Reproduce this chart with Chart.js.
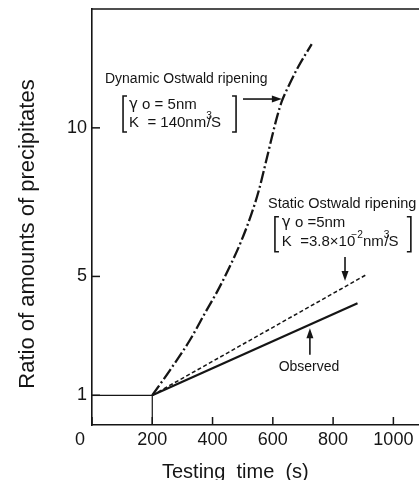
<!DOCTYPE html>
<html>
<head>
<meta charset="utf-8">
<script src="https://cdn.jsdelivr.net/npm/chart.js@4.4.1/dist/chart.umd.min.js"></script>
<style>
    html, body { margin: 0; padding: 0; background: #fff; }
    #wrap { width: 419px; height: 480px; position: relative; }
</style>
</head>
<body>
<div id="wrap"><canvas id="chart"></canvas></div>
<script>
// values
const dynamicTime = [200, 259, 325, 375, 418, 458, 494, 528, 554, 577, 597, 614, 630, 654, 684, 729]
const dynamicRatio = [1, 1.85, 2.86, 3.77, 4.54, 5.35, 6.16, 7.07, 7.91, 8.85, 9.69, 10.37, 10.90, 11.44, 12.05, 12.82]
const staticTime = [200, 914]
const staticRatio = [1, 5.08]
const observedTime = [200, 881]
const observedRatio = [1, 4.10]
const baseTime = [0, 200, 200]
const baseRatio = [1, 1, 0]
const xTicks = [0, 200, 400, 600, 800, 1000]
const yTicks = [1, 5, 10]
const xRange = [0, 1085]
const yRange = [0, 14]

const FONT = '"Liberation Sans", Arial, Helvetica, sans-serif'
const GREEK = '"DejaVu Sans", sans-serif'
const INK = '#151515'

function points(xs, ys) {
    return xs.map((x, i) => ({ x: x, y: ys[i] }))
}

function line(ctx, x1, y1, x2, y2, w) {
    ctx.lineWidth = w
    ctx.beginPath()
    ctx.moveTo(x1, y1)
    ctx.lineTo(x2, y2)
    ctx.stroke()
}

function arrow(ctx, x1, y1, x2, y2) {
    const a = Math.atan2(y2 - y1, x2 - x1)
    const len = 10, half = 3.5
    line(ctx, x1, y1, x2 - Math.cos(a) * len * 0.8, y2 - Math.sin(a) * len * 0.8, 1.6)
    ctx.beginPath()
    ctx.moveTo(x2, y2)
    ctx.lineTo(x2 - Math.cos(a) * len - Math.sin(a) * half, y2 - Math.sin(a) * len + Math.cos(a) * half)
    ctx.lineTo(x2 - Math.cos(a) * len + Math.sin(a) * half, y2 - Math.sin(a) * len - Math.cos(a) * half)
    ctx.closePath()
    ctx.fill()
}

function bracket(ctx, left, right, top, bottom) {
    ctx.lineWidth = 1.6
    ctx.beginPath()
    ctx.moveTo(left + 4, top); ctx.lineTo(left, top); ctx.lineTo(left, bottom); ctx.lineTo(left + 4, bottom)
    ctx.moveTo(right - 4, top); ctx.lineTo(right, top); ctx.lineTo(right, bottom); ctx.lineTo(right - 4, bottom)
    ctx.stroke()
}

// text made of pieces, some raised as superscripts
function rich(ctx, x, y, parts, size) {
    ctx.textAlign = 'left'
    ctx.textBaseline = 'middle'
    let cx = x
    parts.forEach(p => {
        cx += p.dx || 0
        ctx.font = (p.sup ? size * 0.68 : size) + 'px ' + (p.family || FONT)
        ctx.fillText(p.t, cx, p.sup ? y - size * 0.42 : y)
        cx += ctx.measureText(p.t).width
    })
}

const decor = {
    id: 'decor',
    afterDraw(chart) {
        const ctx = chart.ctx
        const area = chart.chartArea
        const xs = chart.scales.x
        const ys = chart.scales.y
        const X = v => xs.getPixelForValue(v)
        const Y = v => ys.getPixelForValue(v)

        ctx.save()
        ctx.strokeStyle = INK
        ctx.fillStyle = INK

        // top frame line, the figure has no right edge
        line(ctx, area.left, area.top, area.right, area.top, 1.6)

        // ticks point into the plot
        xTicks.forEach(v => line(ctx, X(v), area.bottom, X(v), area.bottom - 8, 1.5))
        yTicks.forEach(v => line(ctx, area.left, Y(v), area.left + 8, Y(v), 1.5))

        // x tick labels, the 0 sits out at the corner
        ctx.font = '18px ' + FONT
        ctx.textAlign = 'center'
        ctx.textBaseline = 'middle'
        xTicks.forEach(v => ctx.fillText(String(v), X(v) - (v === 0 ? 12 : 0), area.bottom + 15))

        // axis titles
        ctx.font = '20px ' + FONT
        ctx.textAlign = 'left'
        ctx.textBaseline = 'alphabetic'
        ctx.fillText('Testing  time  (s)', 162, 478)

        ctx.save()
        ctx.translate(33.5, 234)
        ctx.rotate(-Math.PI / 2)
        ctx.font = '22px ' + FONT
        ctx.textAlign = 'center'
        ctx.fillText('Ratio of amounts of precipitates', 0, 0)
        ctx.restore()

        // dynamic ripening note
        rich(ctx, X(43), Y(11.64), [{ t: 'Dynamic Ostwald ripening' }], 14)
        bracket(ctx, X(103), X(478), Y(11.07), Y(9.86))
        rich(ctx, X(123), Y(10.77), [{ t: 'γ', family: GREEK }, { t: ' o = 5nm' }], 15)
        rich(ctx, X(123), Y(10.17), [{ t: 'K  = 140nm' }, { t: '3', sup: true }, { t: '/S', dx: -5 }], 15)
        arrow(ctx, X(501), Y(10.97), X(630), Y(10.97))

        // static ripening note
        rich(ctx, X(584), Y(7.44), [{ t: 'Static Ostwald ripening' }], 14.5)
        bracket(ctx, X(607), X(1058), Y(7.01), Y(5.83))
        rich(ctx, X(630), Y(6.81), [{ t: 'γ', family: GREEK }, { t: ' o =5nm' }], 15)
        rich(ctx, X(630), Y(6.17), [{ t: 'K  =3.8' }, { t: '×' }, { t: '10' }, { t: '−2', sup: true, dx: -4 }, { t: 'nm' }, { t: '3', sup: true }, { t: '/S', dx: -5 }], 15)
        arrow(ctx, X(839.5), Y(5.65), X(839.5), Y(4.85))

        // observed note
        arrow(ctx, X(723), Y(2.36), X(723), Y(3.26))
        ctx.font = '14px ' + FONT
        ctx.textAlign = 'center'
        ctx.textBaseline = 'middle'
        ctx.fillText('Observed', X(720), Y(1.95))

        ctx.restore()
    }
}

const lineStyle = { borderColor: INK, pointRadius: 0, fill: false }

new Chart(document.getElementById('chart'), {
    type: 'line',
    data: {
        datasets: [
            Object.assign({ label: 'Dynamic Ostwald ripening', data: points(dynamicTime, dynamicRatio), borderWidth: 2.3, borderDash: [12, 3, 2, 3], cubicInterpolationMode: 'monotone' }, lineStyle),
            Object.assign({ label: 'Static Ostwald ripening', data: points(staticTime, staticRatio), borderWidth: 1.5, borderDash: [4, 2.5] }, lineStyle),
            Object.assign({ label: 'Observed', data: points(observedTime, observedRatio), borderWidth: 2.2 }, lineStyle),
            Object.assign({ label: 'Before testing', data: points(baseTime, baseRatio), borderWidth: 1.2 }, lineStyle)
        ]
    },
    options: {
        responsive: true,
        maintainAspectRatio: false,
        animation: false,
        devicePixelRatio: 1,
        layout: { padding: { top: 9, left: 0, right: 0, bottom: 0 } },
        plugins: { legend: { display: false }, tooltip: { enabled: false } },
        scales: {
            x: {
                type: 'linear', min: xRange[0], max: xRange[1],
                grid: { display: true, drawOnChartArea: false, drawTicks: false },
                border: { display: true, color: INK, width: 1.6 },
                ticks: { display: false },
                afterBuildTicks: s => { s.ticks = xTicks.map(v => ({ value: v })) },
                afterFit: s => { s.height = 55; s.paddingLeft = 0; s.paddingRight = 0 }
            },
            y: {
                type: 'linear', min: yRange[0], max: yRange[1],
                grid: { display: true, drawOnChartArea: false, drawTicks: false },
                border: { display: true, color: INK, width: 1.6 },
                ticks: { color: INK, padding: 5, font: { family: FONT, size: 18 } },
                afterBuildTicks: s => { s.ticks = yTicks.map(v => ({ value: v })) },
                afterFit: s => { s.width = 92; s.paddingTop = 0; s.paddingBottom = 0 }
            }
        }
    },
    plugins: [decor]
})
</script>
</body>
</html>
